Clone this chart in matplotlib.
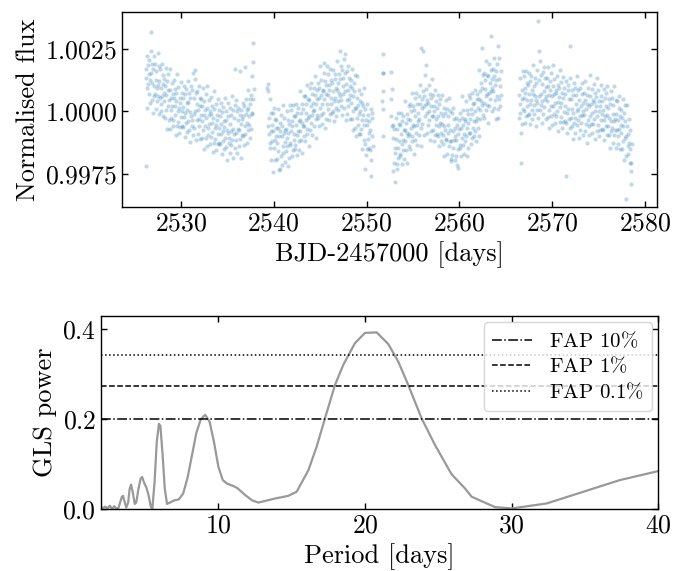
import numpy as np
import matplotlib
matplotlib.use("Agg")
from matplotlib import pyplot as plt
from matplotlib.ticker import ScalarFormatter

plt.rcParams['font.family'] = 'serif'
plt.rcParams['font.serif'] = ['cmr10']
plt.rcParams['mathtext.fontset'] = 'cm'
plt.rcParams['axes.formatter.use_mathtext'] = True
plt.rcParams['axes.unicode_minus'] = False

# light curve: 4 segments, hourly cadence, flux offsets in units of 1e-5
seg_start = [2526.2, 2539.3, 2552.6, 2566.4]
cadence = 1.0 / 24

flux_a = [
    170, -217, 135, 220, 95, 15, 185, 110, 205, 70, 150, 35, 125, 240, 316, 155, 45, 190, 115, -5, 170, 100, 220, 60,
    70, 190, 10, 125, 160, 95, 40, 235, 60, 105, 180, -10, 120, 55, 170, 0, 95, 30, 190, 60, 145, -20, 110, 75,
    130, 40, -25, 100, 175, 5, 65, -70, 120, 85, 20, 150, -35, 45, -70, 85, 170, 5, -25, 55, 115, 20, -60, 70,
    -35, 55, 125, -15, 20, 90, -95, 40, 75, -60, 150, 0, -43, 97, 12, -88, 52, 32, -63, 117, -23, 72, 2, -58,
    53, -62, 18, 103, -22, -102, 68, -7, 88, -47, 33, -82, 7, 122, -38, 37, -73, 72, -3, -123, 52, -18, 102, -58,
    -35, 85, -95, 152, 55, -10, -65, 130, 166, 0, 75, -115, 30, -35, 80, -90, 5, -60, 100, -30, 55, -110, 20, -15,
    50, -40, -105, 20, 95, -75, -15, -150, 40, 5, -60, 70, -105, -25, -140, 15, 100, -65, -95, -15, 45, -50, -130, 0,
    -102, -12, 58, -82, -47, 23, -162, -27, 8, -127, 83, -67, -110, 30, -55, -155, -15, -35, -130, 50, -90, 5, -65, -125,
    -17, -132, -52, 33, -92, -172, -2, -77, 18, -117, -37, -152, -63, 52, -108, -33, -143, 2, -73, -193, -18, -88, 32, -128,
    -105, 15, -165, -50, -15, -80, -135, 60, -115, -70, 5, -185, -25, -90, 25, -145, 170, -115, 45, -85, 0, -165, -35, -70,
    15, -75, -140, -15, 160, -110, -50, -185, 5, -30, -95, 35, -100, -20, -135, 20, 178, -60, -90, -10, 50, -45, -125, 5,
    -75, 15, 85, -55, -20, 50, -105, 30, 65, -70, 140, -10, -5, 198, 50, 272, 90,
]

flux_b = [
    95, 110, 82, -60, -25, -90, -145, 50, -125, -80, -5, -195, -55, -120, -5, -244, -80, -145, 15, -115, -30, -195, -65, -100,
    -35, -125, -190, -65, 10, -160, -100, -235, -45, -80, -230, -15, -178, -98, -213, -58, 27, -138, -168, -88, -28, -123, -203, -73,
    -160, -70, 0, -140, -105, -35, -220, -85, -50, -185, 25, -125, -135, 5, -80, -180, -40, -60, -155, 25, -115, -20, -90, -150,
    -20, -135, -55, 30, -95, -175, -5, -80, 15, -120, -40, -155, -35, 80, -80, -5, -115, 30, -45, -165, 10, -60, 60, -100,
    -60, 60, -120, -5, 30, -35, -90, 105, -70, -25, 50, -140, 45, -20, 95, -75, 20, -45, 115, -15, 70, -95, 35, 0,
    95, 5, -60, 65, 140, -30, 30, -105, 85, 50, -15, 115, -25, 55, -60, 95, 180, 15, -15, 65, 125, 30, -50, 80,
    -5, 85, 155, 192, 50, 120, -65, 70, 105, -30, 180, 30, 10, 150, 65, -35, 105, 85, -10, 170, 30, 125, 55, -5,
    115, 0, 80, 165, 40, -40, 130, 55, 150, 15, 95, -20, 85, 200, 40, 115, 5, 150, 75, 240, 130, 60, 180, 20,
    45, 165, -15, 100, 135, 70, 15, 210, 230, 80, 155, -35, 110, 45, 160, -10, 85, 20, 180, 50, 135, -30, 100, 65,
    125, 35, -30, 95, 170, 0, 60, -75, 115, 80, 15, 145, -65, 15, -100, 55, 140, -25, -55, 25, 85, -10, -90, 40,
    -90, 0, 70, -70, -35, 35, -150, -15, 20, -115, 95, -55, -130, 10, -230, -175, -35, -55, -150, 30, -110, -15, -85, -145,
    -40, -155, -75, 10, -257, -195, -25, -100, -5, -140,
]

gap_time = [2551.70, 2551.72, 2551.74, 2551.76, 2551.78, 2551.80, 2551.82]
gap_flux = [40, 80, 152, 155, 229, 10, -97]

flux_c = [
    158, 50, -20, 90, -60, -55, -240, -105, -70, -205, -284, -145, -165, -25, -110, -210, -70, -230, -185, -5, -145, -50, -120, -180,
    -55, -170, -90, -5, -130, -210, -40, -115, -20, -155, -75, -190, -75, 40, -120, -45, -155, -10, -85, -205, -30, -100, 20, -140,
    -90, 30, -150, -35, 0, -65, -120, 75, -100, -55, 20, -170, 5, -60, 55, -115, -20, -85, 75, -55, 30, -135, -5, -40,
    60, -30, -95, 30, 105, -65, 255, -140, 50, 15, -50, 80, 240, 20, -95, 60, 145, -20, 185, 30, 90, -5, -85, 45,
    -55, 35, 105, -35, 0, 70, -115, 20, 55, -80, 130, -20, -75, 65, -20, -120, 20, 0, -95, 85, -55, 40, -30, -90,
    15, -100, -20, 65, -60, -140, 30, -45, 50, -85, -5, -120, -50, 65, -95, -20, -130, 15, -60, -180, -5, -75, 45, -115,
    -110, 10, -170, -55, -20, -85, -140, 55, -120, -75, 0, -190, -200, -120, -5, -175, -80, -145, 15, -115, -30, -195, -65, -100,
    -25, -115, -180, -55, -215, -150, -90, -225, -35, -70, -135, -5, -145, -65, -180, -25, 60, -105, -135, -55, 5, -90, -170, -40,
    -120, -30, 40, -100, -65, 5, -180, -45, -10, -145, 65, -85, -85, 55, -30, -130, 10, -10, -105, 75, -65, 30, -40, -100,
    35, -80, 0, 85, -40, -120, 50, -25, 70, -65, 15, -100, 50, 165, 5, 80, -30, 115, 40, 252, 95, 25, 145, -15,
    35, 155, -25, 90, 125, 60, 5, 200, 25, 70, 145, -45, 140, 75, 190, 20, 115, 50, 300, 80, 165, 0, 130, 95,
    170, 80, 15, 140, 215, 45, 105, -30, 160, 125, 60, 190, 10, 260, -25, 130, 215, 50, 20, 100, 160, 65,
]

flux_d = [
    -25, 65, 135, -5, 30, -205, -85, 50, 85, -50, 160, 10, 0, 140, 55, -45, 95, 75, -20, 160, 20, 115, 45, -15,
    105, -10, 70, 155, 30, -50, 120, 45, 140, 5, 85, -30, 70, 185, 25, 100, -10, 135, 60, -60, 115, 45, 165, 5,
    35, 362, -25, 240, 125, 60, 5, 200, 25, 70, 145, -45, 108, 43, 158, -12, 83, 18, 178, 48, 133, -32, 98, 63,
    132, 42, -23, 102, 177, 7, 67, -68, 122, 87, 22, 152, -20, 60, -55, 100, 185, 20, -10, 70, 130, 35, -45, 85,
    -18, 72, 142, 2, 37, 107, -78, 57, 92, -43, 167, 17, -23, 117, 32, -68, 72, 52, -43, 137, -3, 92, 22, -38,
    70, -45, -260, 120, -5, -85, 85, 10, 105, -30, 50, -65, 260, 135, -25, 50, -60, 85, 10, -110, 65, -5, 115, -45,
    -25, 95, -85, 30, 65, 0, -55, 140, -35, 10, 85, -105, 45, -20, 95, -75, 20, -45, 115, -15, 70, -95, 35, 0,
    75, -15, -80, 45, 120, -50, 10, -125, 65, 30, -35, 95, -60, 20, -95, 60, 145, -20, -50, 30, 90, -5, -85, 45,
    -52, 38, 108, -32, 3, 73, -112, 23, 58, -77, 133, -17, -55, 85, 0, -100, 40, 20, -75, 105, -35, 60, -10, -70,
    40, -75, 5, 90, -35, -115, 55, -20, 75, -60, 20, -95, -15, 100, -60, 15, -95, 50, -25, -145, 30, -40, 80, -80,
    -65, 55, -125, -10, 25, -40, -95, 100, -75, -30, 45, -145, -10, -75, 40, -130, -35, -100, 60, -70, 15, -150, -20, -55,
    5, -85, -150, -25, 50, -120, -60, -195, -5, -40, -105, 25, -180, -100, -350, -60, 25, -140, -170, -90, -30, -125, -205, -75,
    -150, -290, -205, -240, -130,
]

# GLS periodogram (period in days, power)
period = [2.0, 2.15, 2.3, 2.45, 2.6, 2.75, 2.9, 3.05, 3.2, 3.3, 3.42, 3.5, 3.6, 3.72, 3.85, 3.95, 4.05,
          4.15, 4.3, 4.4, 4.55, 4.7, 4.8, 4.95, 5.1, 5.25, 5.4, 5.5, 5.65, 5.8, 5.95, 6.05, 6.2, 6.35,
          6.5, 6.7, 7.0, 7.3, 7.6, 7.9, 8.2, 8.5, 8.8, 9.1, 9.4, 9.7, 10.0, 10.3, 10.6, 11.0, 11.3,
          11.82, 12.3, 12.73, 13.86, 14.77, 15.34, 16.14, 16.7, 17.27, 17.95, 18.52, 19.31, 20.0,
          20.8, 21.59, 22.27, 22.95, 23.86, 24.77, 25.9, 26.8, 27.27, 28.86, 30.0, 32.38, 34.88,
          37.38, 40.0]
power = [0.006, 0.003, 0.006, 0.002, 0.008, 0.001, 0.007, 0.001, 0.004, 0.015, 0.028, 0.030, 0.018,
         0.004, 0.015, 0.045, 0.055, 0.040, 0.012, 0.015, 0.045, 0.068, 0.072, 0.058, 0.048, 0.030,
         0.005, 0.002, 0.060, 0.150, 0.190, 0.185, 0.120, 0.045, 0.012, 0.015, 0.020, 0.022, 0.035,
         0.070, 0.120, 0.170, 0.200, 0.210, 0.195, 0.150, 0.095, 0.065, 0.057, 0.052, 0.047, 0.032,
         0.020, 0.015, 0.024, 0.030, 0.039, 0.087, 0.139, 0.202, 0.276, 0.321, 0.369, 0.392, 0.393,
         0.367, 0.328, 0.276, 0.202, 0.143, 0.078, 0.047, 0.028, 0.005, 0.002, 0.013, 0.039, 0.065,
         0.085]

fap_levels = [0.2015, 0.275, 0.342]
fap_labels = [r"FAP 10$\%$", r"FAP 1$\%$", r"FAP 0.1$\%$"]
fap_styles = ["-.", "--", ":"]

# build time/flux arrays
times = []
fluxes = []
for t0, vals in zip(seg_start, [flux_a, flux_b, flux_c, flux_d]):
    times.append(t0 + np.arange(len(vals)) * cadence)
    fluxes.append(np.array(vals))
times.append(np.array(gap_time))
fluxes.append(np.array(gap_flux))
time = np.concatenate(times)
flux = 1 + np.concatenate(fluxes) * 1e-5

fig = plt.figure(figsize=(6.78, 5.71), dpi=100)
ax1 = fig.add_axes([0.1804, 0.637, 0.789, 0.3415])
ax2 = fig.add_axes([0.149, 0.108, 0.822, 0.339])

fs = 18.5
lfs = 19

ax1.scatter(time, flux, s=9, color="C0", alpha=0.28, linewidths=0)
ax1.set_xlim(2523.7, 2581.3)
ax1.set_ylim(0.99616, 1.00396)
ax1.set_xticks([2530, 2540, 2550, 2560, 2570, 2580])
ax1.set_yticks([0.9975, 1.0, 1.0025])
ax1.yaxis.set_major_formatter(ScalarFormatter(useOffset=False))
ax1.set_xlabel("BJD-2457000 [days]", fontsize=lfs)
ax1.set_ylabel("Normalised flux", fontsize=lfs)

ax2.plot(period, power, color="0.6", lw=1.6)
for lev, lab, ls in zip(fap_levels, fap_labels, fap_styles):
    ax2.axhline(lev, color="k", ls=ls, lw=1.1, label=lab)
ax2.set_xlim(2, 40)
ax2.set_ylim(0, 0.43)
ax2.set_xticks([10, 20, 30, 40])
ax2.set_yticks([0.0, 0.2, 0.4])
ax2.set_xlabel("Period [days]", fontsize=lfs)
ax2.set_ylabel("GLS power", fontsize=lfs)
ax2.legend(loc="upper right", fontsize=15, handlelength=1.9, borderaxespad=0.3,
           labelspacing=0.25)

for ax in (ax1, ax2):
    ax.tick_params(direction="in", top=True, right=True, labelsize=fs, length=4, width=1)
    for sp in ax.spines.values():
        sp.set_linewidth(1.0)

fig.savefig("out.png", dpi=100)
